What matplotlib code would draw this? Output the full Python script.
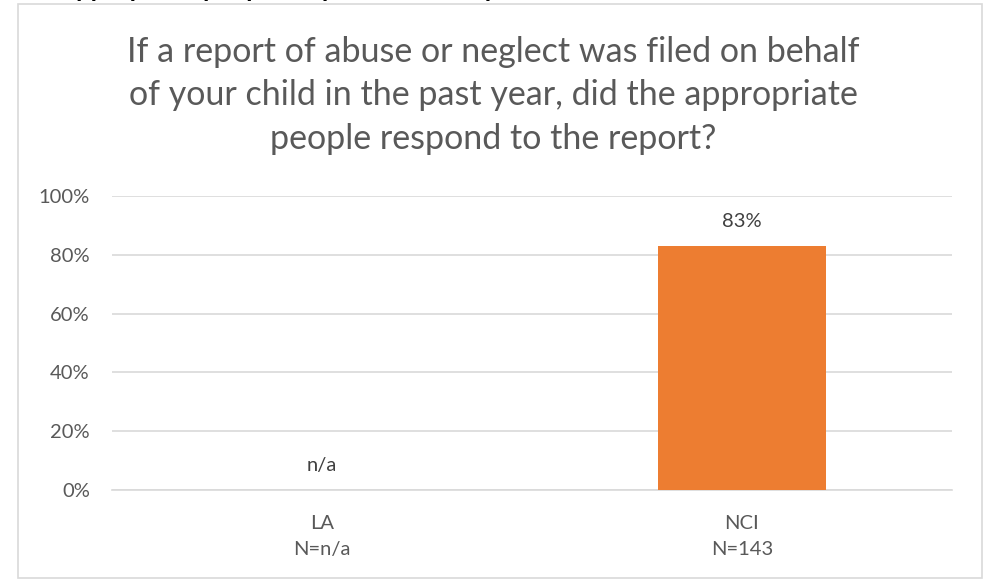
import numpy as np
import matplotlib.pyplot as plt
from matplotlib.patches import Rectangle

plt.rcParams["font.family"] = ["Lato", "DejaVu Sans"]

categories = ["LA\nN=n/a", "NCI\nN=143"]
values = [np.nan, 83]
bar_labels = ["n/a", "83%"]
yticks = [0, 20, 40, 60, 80, 100]
title = ("If a report of abuse or neglect was filed on behalf\n"
         "of your child in the past year, did the appropriate\n"
         "people respond to the report?")
clipped_heading = "appropriate people respond to the report?"

GREY = "#595959"
ORANGE = "#ED7D31"

fig = plt.figure(figsize=(9.86, 5.81), dpi=100)

# outer chart border
fig.patches.append(Rectangle((18 / 986, 3 / 581), 964 / 986, 574 / 581,
                             transform=fig.transFigure, fill=False,
                             edgecolor="#d9d9d9", linewidth=1.2))

# heading from the page above, only the descenders show
fig.text(63 / 986, 1 + 2.6 / 581, clipped_heading, fontsize=18.5,
         fontweight="bold", color="black", va="baseline", ha="left")

ax = fig.add_axes([112 / 986, 1 - 490 / 581, 840 / 986, 294 / 581])
x = np.arange(len(categories))
ax.bar(x, np.nan_to_num(values), width=0.4, color=ORANGE, zorder=3)
for xi, v, lab in zip(x, values, bar_labels):
    y = 0 if np.isnan(v) else v
    ax.text(xi, y + 5.3, lab, ha="center", va="bottom",
            fontsize=14.5, color="#404040")

ax.set_xlim(-0.5, 1.5)
ax.set_ylim(0, 100)
ax.set_yticks(yticks)
ax.set_yticklabels([f"{t}%" for t in yticks])
ax.set_xticks(x)
ax.set_xticklabels(categories, linespacing=1.65)
ax.tick_params(length=0, labelsize=14.5, labelcolor=GREY)
ax.tick_params(axis="y", pad=16)
ax.tick_params(axis="x", pad=18)
ax.grid(axis="y", color="#d9d9d9", linewidth=1.2, zorder=0)
for side in ["top", "right", "left"]:
    ax.spines[side].set_visible(False)
ax.spines["bottom"].set_color("#d9d9d9")
ax.spines["bottom"].set_linewidth(1.2)

fig.text(0.5, 1 - 36 / 581, title, ha="center", va="top", fontsize=24.5,
         color=GREY, linespacing=1.44)

fig.savefig("out.png", dpi=100)
